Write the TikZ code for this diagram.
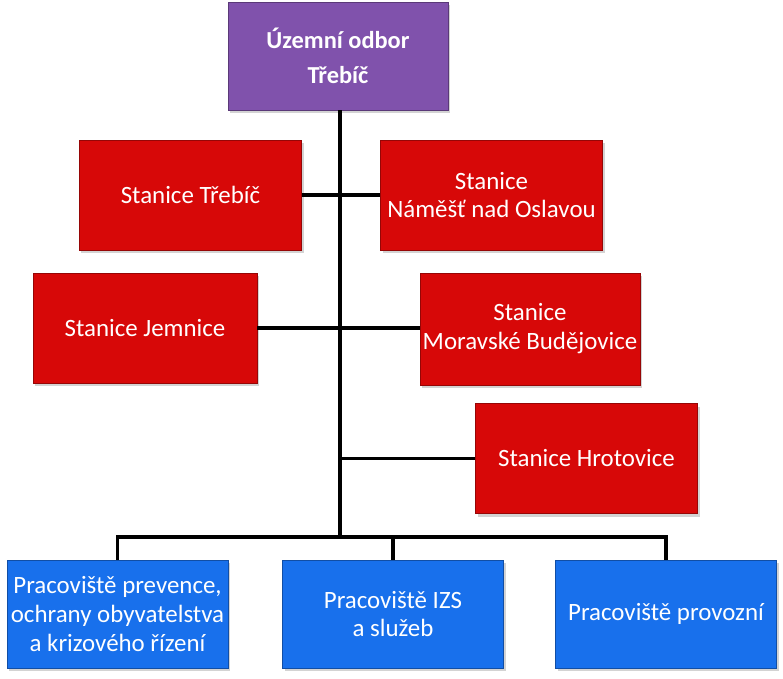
\documentclass[tikz,border=0pt]{standalone}
\usepackage{fontspec}
\setmainfont{Carlito}
\usepackage{tikz}
\usetikzlibrary{shadows}

\definecolor{odborfill}{RGB}{128,82,172}
\definecolor{stanfill}{RGB}{215,8,8}
\definecolor{pracfill}{RGB}{24,112,236}

\begin{document}
\begin{tikzpicture}[x=1bp,y=-1bp,
  box/.style={rectangle, draw=#1!70!black, line width=0.6bp, fill=#1,
    text=white, align=center, inner sep=2bp, font=\fontsize{25}{29}\selectfont,
    drop shadow={shadow xshift=2bp, shadow yshift=-3bp, opacity=0.35}},
  odbor/.style={box=odborfill, minimum width=220bp, minimum height=108bp,
    font=\fontsize{24.5}{35}\selectfont\bfseries},
  stanice/.style={box=stanfill, minimum width=222bp, minimum height=110bp},
  pracoviste/.style={box=pracfill, minimum width=221bp, minimum height=108bp},
  spoj/.style={line width=3.5bp, black}]
\useasboundingbox (0,0) rectangle (783,679);
%
\node[odbor] (odbor) at (338,56) {Územní odbor\\Třebíč};
%
\node[stanice] (trebic) at (190.5,195) {Stanice Třebíč};
\node[stanice] (namest) at (491.5,195) {Stanice\\Náměšť nad Oslavou};
\node[stanice, minimum width=224bp] (jemnice) at (145,328) {Stanice Jemnice};
\node[stanice, minimum width=220bp, minimum height=112bp] (morbud) at (530,329) {Stanice\\Moravské Budějovice};
\node[stanice] (hrotovice) at (586.5,458.5) {Stanice Hrotovice};
%
\node[pracoviste] (prevence) at (117.5,614) {Pracoviště prevence,\\ochrany obyvatelstva\\a krizového řízení};
\node[pracoviste] (izs) at (393,614) {Pracoviště IZS\\a služeb};
\node[pracoviste] (provozni) at (666,614) {Pracoviště provozní};
%
\coordinate (kmen) at (340,537);
\draw[spoj] (odbor.south -| kmen) -- (kmen);
\draw[spoj] (trebic.east) -- (namest.west);
\draw[spoj] (jemnice.east) -- (jemnice.east -| morbud.west);
\draw[spoj] (kmen |- hrotovice.west) -- (hrotovice.west);
\draw[spoj] (prevence.north) -- (prevence.north |- kmen) -- (provozni.north |- kmen) -- (provozni.north);
\draw[spoj] (izs.north |- kmen) -- (izs.north);
\end{tikzpicture}
\end{document}
